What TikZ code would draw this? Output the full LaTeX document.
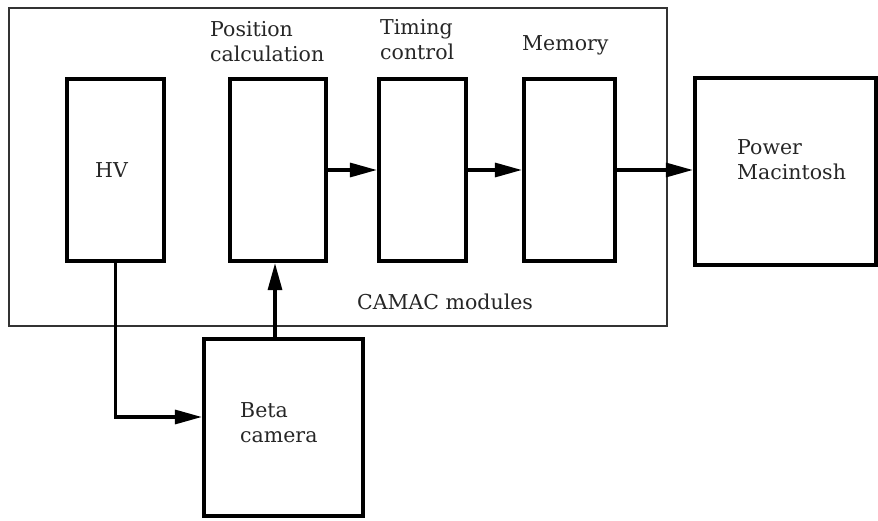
\documentclass[tikz,border=0pt]{standalone}
\usepackage{fontspec}
\setmainfont{DejaVu Serif}
\usetikzlibrary{arrows.meta}
\begin{document}
\begin{tikzpicture}[x=1pt,y=-1pt,
  module/.style={draw, line width=4.2pt, rectangle, inner sep=0pt},
  crate/.style={draw=black!80, line width=1.5pt, rectangle, inner sep=0pt},
  lbl/.style={font=\fontsize{20.5}{25}\selectfont, align=left, anchor=base west, inner sep=0pt, text=black!85},
  arr/.style={line width=3.2pt, -{Triangle[length=27pt,width=14pt]}},
  ]
\useasboundingbox (0,0) rectangle (878,521);

% CAMAC crate outline
\node[crate, minimum width=658pt, minimum height=318pt] (camac) at (338,167) {};

% modules and devices
\node[module, minimum width=97pt, minimum height=182pt] (hv) at (115.5,170) {};
\node[module, minimum width=96pt, minimum height=182pt] (pos) at (278,170) {};
\node[module, minimum width=87pt, minimum height=182pt] (tim) at (422.5,170) {};
\node[module, minimum width=91pt, minimum height=182pt] (mem) at (569.5,170) {};
\node[module, minimum width=181pt, minimum height=187pt] (mac) at (785.5,171.5) {};
\node[module, minimum width=159pt, minimum height=177pt] (beta) at (283.5,427.5) {};

% labels (base anchor sits on the last line)
\node[lbl] (hvlbl) at (95,178) {HV};
\node[lbl] (poslbl) at (210,62) {Position\\calculation};
\node[lbl] (timlbl) at (380,60) {Timing\\control};
\node[lbl] (memlbl) at (522,51) {Memory};
\node[lbl] (maclbl) at (737,180) {Power\\Macintosh};
\node[lbl] (betalbl) at (240,442) {Beta\\camera};
\node[lbl] (camaclbl) at (357,309) {CAMAC modules};

% signal paths
\draw[arr] (pos.east) -- (tim.west);
\draw[arr] (tim.east) -- (mem.west);
\draw[arr] (mem.east) -- (mem.east -| mac.west);
\draw[arr] (hv.south) |- ([yshift=10.5pt]beta.west);
\draw[arr] ([xshift=-3pt]beta.north -| pos.south) -- ([xshift=-3pt]pos.south);
\end{tikzpicture}
\end{document}
